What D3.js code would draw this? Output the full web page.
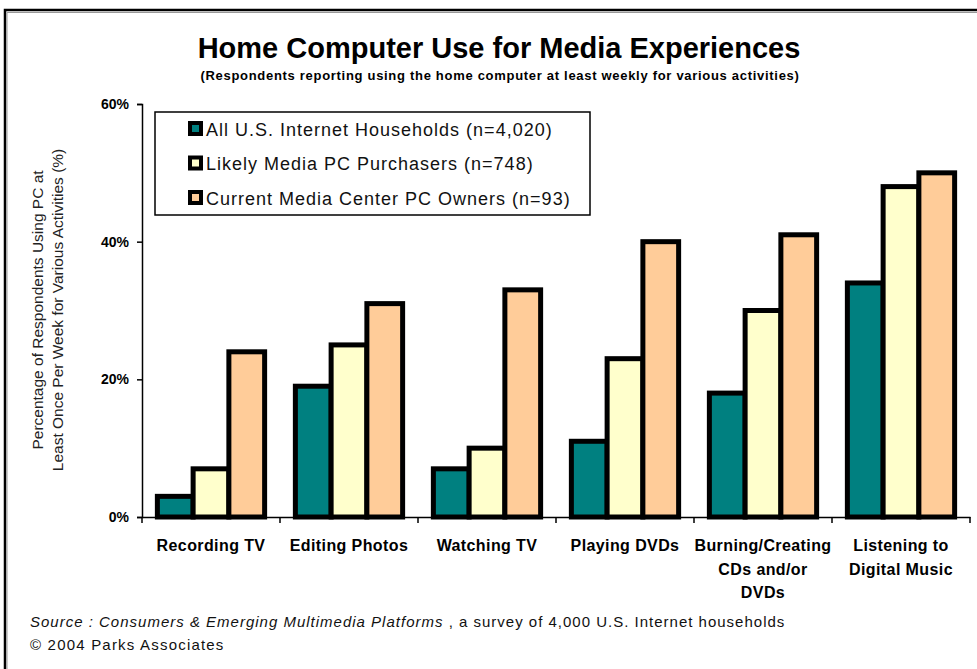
<!DOCTYPE html>
<html>
<head>
<meta charset="utf-8">
<script src="https://cdn.jsdelivr.net/npm/d3@7"></script>
<style>
  body { margin: 0; background: #fff; }
  svg { display: block; font-family: "Liberation Sans", Arial, sans-serif; }
</style>
</head>
<body>
<div id="chart"></div>
<script>
const categories = [
  ["Recording TV"],
  ["Editing Photos"],
  ["Watching TV"],
  ["Playing DVDs"],
  ["Burning/Creating", "CDs and/or", "DVDs"],
  ["Listening to", "Digital Music"]
];
const seriesNames = [
  "All U.S. Internet Households (n=4,020)",
  "Likely Media PC Purchasers (n=748)",
  "Current Media Center PC Owners (n=93)"
];
const seriesColors = ["#008080", "#ffffcc", "#ffcc99"];
const allHouseholds = [3, 19, 7, 11, 18, 34];
const likelyPurchasers = [7, 25, 10, 23, 30, 48];
const currentOwners = [24, 31, 33, 40, 41, 50];
const yTicks = [0, 20, 40, 60];

const series = [allHouseholds, likelyPurchasers, currentOwners];
const catKeys = categories.map(c => c.join(" "));

const width = 977, height = 669;
const svg = d3.select("#chart").append("svg")
  .attr("width", width).attr("height", height);

// frame (top and left edges visible)
svg.append("path")
  .attr("d", "M5,669 L5,10 L977,10")
  .attr("fill", "none").attr("stroke", "#000").attr("stroke-width", 2.5);
svg.append("path")
  .attr("d", "M7,669 L7,12.5 L977,12.5")
  .attr("fill", "none").attr("stroke", "#999").attr("stroke-width", 1);

// title
svg.append("text")
  .attr("x", 499).attr("y", 58)
  .attr("text-anchor", "middle")
  .style("font-size", "29px").style("font-weight", "bold")
  .text("Home Computer Use for Media Experiences");
svg.append("text")
  .attr("x", 500).attr("y", 80)
  .attr("text-anchor", "middle")
  .style("font-size", "13px").style("font-weight", "bold")
  .style("letter-spacing", "0.7px")
  .text("(Respondents reporting using the home computer at least weekly for various activities)");

const plotLeft = 142, plotRight = 970, plotTop = 104, plotBottom = 517;

const x0 = d3.scaleBand().domain(catKeys).range([plotLeft, plotRight]).padding(0);
const x1 = d3.scaleBand().domain(d3.range(series.length))
  .range([0, x0.bandwidth()]).paddingInner(0).paddingOuter(0.43);
const y = d3.scaleLinear().domain([0, 60]).range([plotBottom, plotTop]);

// bars
const groups = svg.append("g").selectAll("g")
  .data(catKeys)
  .join("g")
  .attr("transform", d => `translate(${x0(d)},0)`);

groups.selectAll("rect")
  .data((d, i) => series.map((s, k) => ({k: k, v: s[i]})))
  .join("rect")
  .attr("x", d => x1(d.k))
  .attr("width", x1.bandwidth())
  .attr("y", d => y(d.v))
  .attr("height", d => y(0) - y(d.v))
  .attr("fill", d => seriesColors[d.k])
  .attr("stroke", "#000")
  .attr("stroke-width", 5)
  .attr("stroke-linejoin", "miter");

// y axis
const yAxis = svg.append("g")
  .attr("transform", `translate(${plotLeft},0)`)
  .call(d3.axisLeft(y).tickValues(yTicks).tickSize(5).tickPadding(8)
    .tickFormat(d => d + "%"));
yAxis.select(".domain").attr("stroke", "#000").attr("stroke-width", 1.5);
yAxis.selectAll(".tick line").attr("stroke", "#000").attr("stroke-width", 1.5);
yAxis.selectAll("text")
  .style("font-size", "14px").style("font-weight", "bold")
  .style("font-family", "'Liberation Sans', Arial, sans-serif").attr("fill", "#000");

// x axis with ticks at band edges
const xAxis = svg.append("g")
  .attr("transform", `translate(0,${plotBottom})`)
  .call(d3.axisBottom(x0).tickSize(0).tickFormat(""));
xAxis.select(".domain").attr("stroke", "#000").attr("stroke-width", 1.5);
const edges = catKeys.map(k => x0(k)).concat([plotRight]);
xAxis.selectAll(".edge").data(edges).join("line")
  .attr("class", "edge")
  .attr("x1", d => d).attr("x2", d => d)
  .attr("y1", 0).attr("y2", 6)
  .attr("stroke", "#000").attr("stroke-width", 1.5);

// category labels
svg.append("g").selectAll("text")
  .data(categories)
  .join("text")
  .attr("x", (d, i) => x0(catKeys[i]) + x0.bandwidth() / 2)
  .attr("y", 551)
  .attr("text-anchor", "middle")
  .style("font-size", "16px").style("font-weight", "bold")
  .style("letter-spacing", "0.4px")
  .selectAll("tspan")
  .data(d => d)
  .join("tspan")
  .attr("x", function() { return d3.select(this.parentNode).attr("x"); })
  .attr("dy", (d, j) => j === 0 ? 0 : 23.5)
  .text(d => d);

// y axis title
const yTitle = svg.append("text")
  .attr("transform", "translate(43,310) rotate(-90)")
  .attr("text-anchor", "middle")
  .attr("fill", "#222")
  .style("font-size", "15.5px");
yTitle.append("tspan").attr("x", 0).attr("dy", 0).text("Percentage of Respondents Using PC at");
yTitle.append("tspan").attr("x", 0).attr("dy", 20).text("Least Once Per Week for Various Activities (%)");

// legend
const legend = svg.append("g");
legend.append("rect")
  .attr("x", 155).attr("y", 112).attr("width", 435).attr("height", 103)
  .attr("fill", "#fff").attr("stroke", "#000").attr("stroke-width", 1.5);
const items = legend.selectAll(".item").data(seriesNames).join("g")
  .attr("class", "item")
  .attr("transform", (d, i) => `translate(190,${129 + i * 34.5})`);
items.append("rect")
  .attr("x", 0).attr("y", -6).attr("width", 11).attr("height", 11)
  .attr("fill", (d, i) => seriesColors[i])
  .attr("stroke", "#000").attr("stroke-width", 4);
items.append("text")
  .attr("x", 16).attr("y", 6.5)
  .style("font-size", "18px")
  .style("letter-spacing", "1px")
  .attr("fill", "#111")
  .text(d => d);

// source
const src = svg.append("text").attr("x", 30).attr("y", 627)
  .style("font-size", "15px").style("letter-spacing", "1px").attr("fill", "#111");
src.append("tspan").style("font-style", "italic").text("Source :  Consumers & Emerging Multimedia Platforms");
src.append("tspan").text(" , a survey of 4,000 U.S. Internet households");
svg.append("text").attr("x", 30).attr("y", 650)
  .style("font-size", "15px").style("letter-spacing", "1.2px").attr("fill", "#111")
  .text("© 2004 Parks Associates");
</script>
</body>
</html>
